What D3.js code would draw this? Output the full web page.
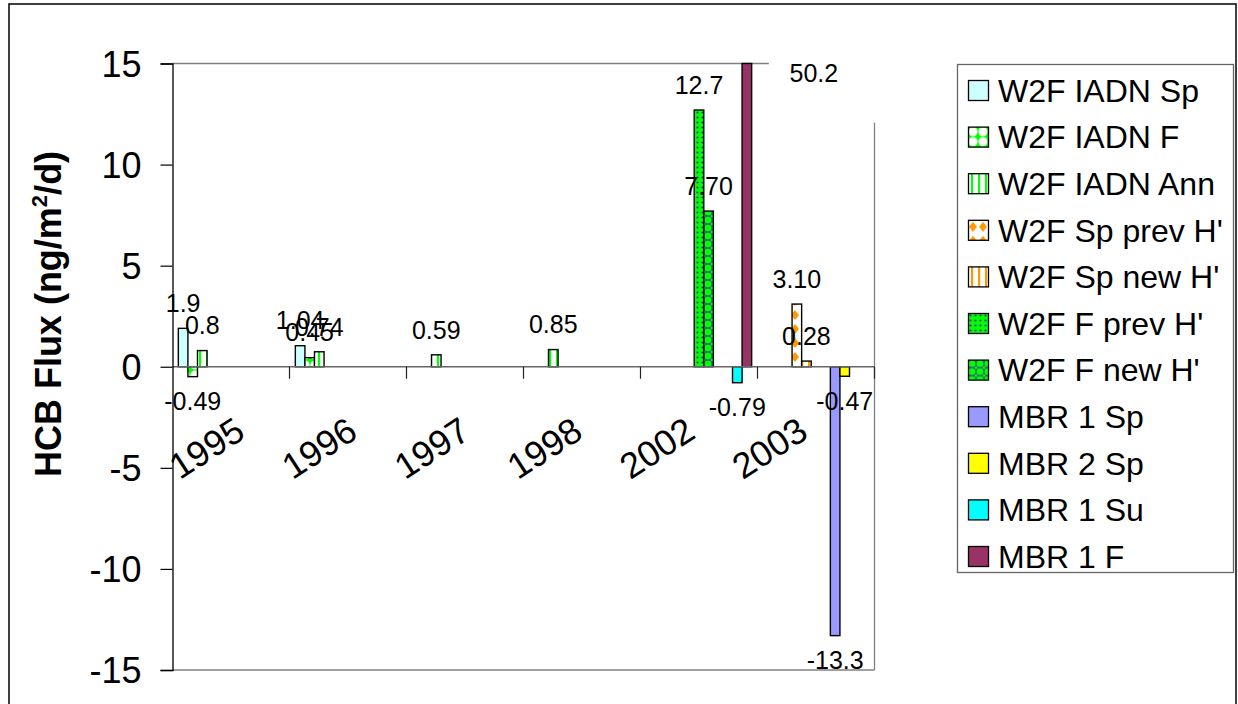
<!DOCTYPE html>
<html>
<head>
<meta charset="utf-8">
<script src="https://cdn.jsdelivr.net/npm/d3@7"></script>
<style>
  html, body { margin: 0; padding: 0; background: #fff; }
  svg { display: block; font-family: "Liberation Sans", Arial, sans-serif; }
</style>
</head>
<body>
<svg id="chart" width="1238" height="704"></svg>
<script>
// ---------- data ----------
const categories = ["1995", "1996", "1997", "1998", "2002", "2003"];
const seriesNames = ["W2F IADN Sp", "W2F IADN F", "W2F IADN Ann", "W2F Sp prev H'", "W2F Sp new H'",
  "W2F F prev H'", "W2F F new H'", "MBR 1 Sp", "MBR 2 Sp", "MBR 1 Su", "MBR 1 F"];
const iadnSp   = [1.9, 1.04, null, null, null, null];
const iadnF    = [-0.49, 0.45, null, null, null, null];
const iadnAnn  = [0.8, 0.74, 0.59, 0.85, null, null];
const spPrevH  = [null, null, null, null, null, 3.10];
const spNewH   = [null, null, null, null, null, 0.28];
const fPrevH   = [null, null, null, null, 12.7, null];
const fNewH    = [null, null, null, null, 7.70, null];
const mbr1Sp   = [null, null, null, null, null, -13.3];
const mbr2Sp   = [null, null, null, null, null, -0.47];
const mbr1Su   = [null, null, null, null, -0.79, null];
const mbr1F    = [null, null, null, null, 50.2, null];
const yTicks = [-15, -10, -5, 0, 5, 10, 15];

const seriesValues = [iadnSp, iadnF, iadnAnn, spPrevH, spNewH, fPrevH, fNewH, mbr1Sp, mbr2Sp, mbr1Su, mbr1F];

// ---------- setup ----------
const svg = d3.select("#chart");
const defs = svg.append("defs");

function pat(id, w, h, bg, draw) {
  const p = defs.append("pattern").attr("id", id).attr("patternUnits", "userSpaceOnUse")
    .attr("width", w).attr("height", h);
  p.append("rect").attr("width", w).attr("height", h).attr("fill", bg);
  draw(p);
}
// IADN F: green with white spheres
pat("pIadnF", 10, 10, "#00ff00", p => {
  p.append("circle").attr("cx", 5).attr("cy", 5).attr("r", 4.6).attr("fill", "#fff");
});
// IADN Ann: white w/ green vertical stripes
pat("pIadnAnn", 7, 7, "#fff", p => {
  p.append("rect").attr("x", 3).attr("width", 2.2).attr("height", 7).attr("fill", "#00ff00");
});
// Sp prev H': white with orange diamonds
pat("pSpPrev", 10, 14, "#fff", p => {
  p.append("path").attr("d", "M5,2 L9,7 L5,12 L1,7 Z").attr("fill", "#ff9900");
});
// Sp new H': white with orange stripes
pat("pSpNew", 7, 7, "#fff", p => {
  p.append("rect").attr("x", 3).attr("width", 2.2).attr("height", 7).attr("fill", "#ff9900");
});
// F prev H': green with navy small dots
pat("pFPrev", 5, 5, "#00ff00", p => {
  p.append("circle").attr("cx", 2.5).attr("cy", 2.5).attr("r", 1.1).attr("fill", "#333399");
});
// F new H': navy with green spheres
pat("pFNew", 8, 8, "#333399", p => {
  p.append("circle").attr("cx", 4).attr("cy", 4).attr("r", 3.6).attr("fill", "#00ff00");
  [[0, 0], [8, 0], [0, 8], [8, 8]].forEach(([cx, cy]) =>
    p.append("circle").attr("cx", cx).attr("cy", cy).attr("r", 1.6).attr("fill", "#00ff00"));
});

const fills = ["#ccffff", "url(#pIadnF)", "url(#pIadnAnn)", "url(#pSpPrev)", "url(#pSpNew)",
  "url(#pFPrev)", "url(#pFNew)", "#9999ff", "#ffff00", "#00ffff", "#993366"];

// outer chart border
svg.append("rect").attr("x", 9).attr("y", 4).attr("width", 1227).attr("height", 720)
  .attr("fill", "none").attr("stroke", "#000").attr("stroke-width", 1.5);

const plot = { left: 172.5, right: 874.5, top: 63.5, bottom: 670 };

const x = d3.scaleBand().domain(categories).range([plot.left, plot.right]).padding(0);
const xs = d3.scaleBand().domain(d3.range(seriesNames.length)).range([0, x.bandwidth()])
  .paddingInner(0).paddingOuter(0.61);
const y = d3.scaleLinear().domain([-15, 15]).range([plot.bottom, plot.top]);
// category labels sit on their own evenly spaced anchors below the axis
const xLab = d3.scalePoint().domain(categories).range([247, 810]);

// plot area border (gray)
const border = svg.append("g").attr("stroke", "#808080").attr("stroke-width", 1.3).attr("fill", "none");
border.append("line").attr("x1", plot.left).attr("x2", plot.right).attr("y1", plot.top).attr("y2", plot.top);
border.append("line").attr("x1", plot.right).attr("x2", plot.right).attr("y1", plot.top).attr("y2", plot.bottom);
border.append("line").attr("x1", plot.left).attr("x2", plot.right).attr("y1", plot.bottom).attr("y2", plot.bottom);

// bars
const barData = [];
seriesValues.forEach((vals, s) => {
  vals.forEach((v, c) => {
    if (v !== null) barData.push({ s, c, v });
  });
});

const clampV = v => Math.max(-15, Math.min(15, v));
svg.append("g").selectAll("rect").data(barData).join("rect")
  .attr("x", d => x(categories[d.c]) + xs(d.s))
  .attr("width", xs.bandwidth())
  .attr("y", d => y(Math.max(0, clampV(d.v))))
  .attr("height", d => Math.abs(y(clampV(d.v)) - y(0)))
  .attr("fill", d => fills[d.s])
  .attr("stroke", "#000").attr("stroke-width", 1.4);

// x axis (zero line) with boundary ticks
const xAxis = svg.append("g");
xAxis.append("line").attr("x1", plot.left).attr("x2", plot.right)
  .attr("y1", y(0)).attr("y2", y(0)).attr("stroke", "#666").attr("stroke-width", 1.3);
const bounds = categories.map(c => x(c)).concat([plot.right]).slice(1);
xAxis.selectAll("line.tk").data(bounds).join("line").attr("class", "tk")
  .attr("x1", d => d).attr("x2", d => d).attr("y1", y(0)).attr("y2", y(0) + 12)
  .attr("stroke", "#222").attr("stroke-width", 1.2);

// category labels (rotated)
svg.append("g").selectAll("text").data(categories).join("text")
  .attr("transform", d => `translate(${xLab(d)},${y(0) + 70}) rotate(-33)`)
  .attr("text-anchor", "end")
  .attr("font-size", 36)
  .attr("fill", "#000")
  .text(d => d);

// y axis
const yAxis = svg.append("g").attr("transform", `translate(${plot.left},0)`)
  .call(d3.axisLeft(y).tickValues(yTicks).tickSize(12).tickPadding(19).tickFormat(d => String(d)));
yAxis.select(".domain").attr("stroke", "#000").attr("stroke-width", 1.3);
yAxis.selectAll(".tick line").attr("stroke", "#000").attr("stroke-width", 1.2);
yAxis.selectAll(".tick text").attr("font-size", 36).attr("fill", "#000")
  .attr("font-family", "'Liberation Sans', Arial, sans-serif").attr("dy", "0.35em");

// y title
const yt = svg.append("text")
  .attr("transform", "translate(61,314) rotate(-90)")
  .attr("text-anchor", "middle").attr("font-size", 36).attr("font-weight", "bold").attr("fill", "#000");
yt.append("tspan").text("HCB Flux (ng/m");
yt.append("tspan").attr("font-size", 22).attr("dy", -14).text("2");
yt.append("tspan").attr("dy", 14).text("/d)");

// data labels (text exactly as printed on the chart)
const labelText = d => {
  if (d.v === 7.7) return "7.70";
  if (d.v === 3.1) return "3.10";
  return String(d.v);
};
const labG = svg.append("g").attr("font-size", 25).attr("fill", "#000").attr("text-anchor", "middle");
barData.forEach(d => {
  const cx = x(categories[d.c]) + xs(d.s) + xs.bandwidth() / 2;
  if (d.v > 15) {
    // bar is clipped at the top: label moved to the right in a white box
    labG.append("rect").attr("x", cx + 22).attr("y", y(15) - 10).attr("width", 112).attr("height", 69)
      .attr("fill", "#fff");
    labG.append("text").attr("x", cx + 67).attr("y", y(15) + 10).attr("dy", "0.35em").text(labelText(d));
  } else if (d.v >= 0) {
    labG.append("text").attr("x", cx).attr("y", y(d.v) - 25).attr("dy", "0.35em").text(labelText(d));
  } else {
    labG.append("text").attr("x", cx).attr("y", y(d.v) + 25).attr("dy", "0.35em").text(labelText(d));
  }
});

// legend
const lg = svg.append("g");
lg.append("rect").attr("x", 957.5).attr("y", 64.5).attr("width", 276).attr("height", 508)
  .attr("fill", "#fff").attr("stroke", "#666").attr("stroke-width", 1.3);
const items = lg.selectAll("g.item").data(seriesNames).join("g").attr("class", "item")
  .attr("transform", (d, i) => `translate(968,${80 + i * 46.6})`);
items.append("rect").attr("x", 0.5).attr("y", 0.5).attr("width", 20).attr("height", 20)
  .attr("fill", (d, i) => fills[i]).attr("stroke", "#000").attr("stroke-width", 1.3);
items.append("text").attr("x", 30).attr("y", 10.5).attr("dy", "0.35em")
  .attr("font-size", 32).attr("fill", "#000").text(d => d);
</script>
</body>
</html>
